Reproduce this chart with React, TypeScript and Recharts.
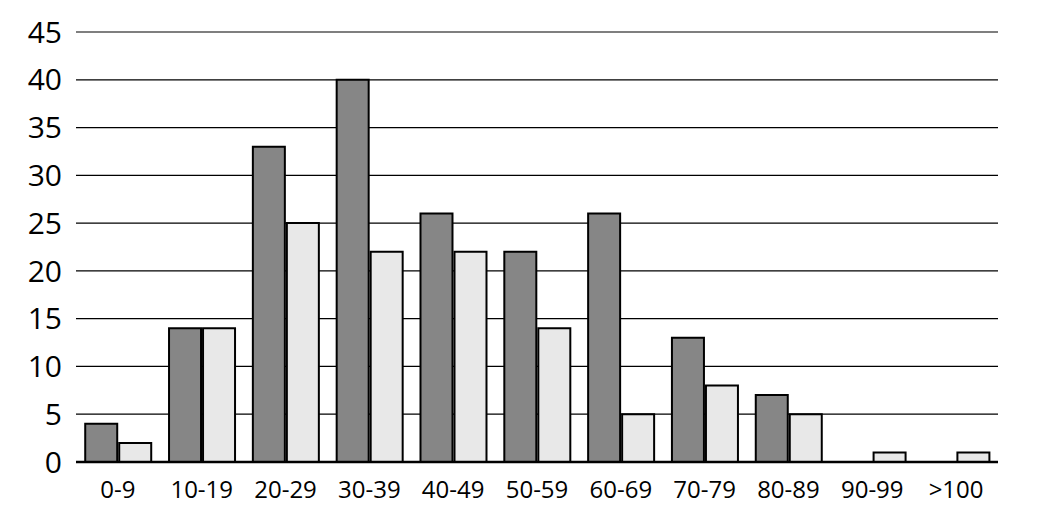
import React from "react";
import { BarChart, Bar, XAxis, YAxis, CartesianGrid } from "recharts";

const categories = ["0-9", "10-19", "20-29", "30-39", "40-49", "50-59", "60-69", "70-79", "80-89", "90-99", ">100"];
const seriesA = [4, 14, 33, 40, 26, 22, 26, 13, 7, 0, 0];
const seriesB = [2, 14, 25, 22, 22, 14, 5, 8, 5, 1, 1];
const yTicks = [0, 5, 10, 15, 20, 25, 30, 35, 40, 45];

const data = categories.map((c, i) => ({ name: c, a: seriesA[i], b: seriesB[i] }));

export default function App() {
  return (
    <div style={{ position: "absolute", left: 0, top: 0, width: 1048, height: 527, background: "#fff", fontFamily: "'Open Sans', 'Noto Sans', sans-serif" }}>
      <BarChart
        width={1048}
        height={527}
        data={data}
        margin={{ top: 32, right: 50, bottom: 0, left: 0 }}
        barCategoryGap="11%"
        barGap={2}
      >
        <CartesianGrid vertical={false} stroke="#000" strokeWidth={1.2} />
        <XAxis
          dataKey="name"
          height={65}
          axisLine={{ stroke: "#000", strokeWidth: 2.5 }}
          tickLine={false}
          tick={{ fill: "#000", fontSize: 24 }}
          tickMargin={13}
          interval={0}
        />
        <YAxis
          width={76}
          domain={[0, 45]}
          ticks={yTicks}
          axisLine={false}
          tickLine={false}
          tick={{ fill: "#000", fontSize: 30 }}
          tickMargin={8}
          interval={0}
        />
        <Bar dataKey="a" fill="#868686" stroke="#000" strokeWidth={2} isAnimationActive={false} />
        <Bar dataKey="b" fill="#e8e8e8" stroke="#000" strokeWidth={2} isAnimationActive={false} />
      </BarChart>
    </div>
  );
}
